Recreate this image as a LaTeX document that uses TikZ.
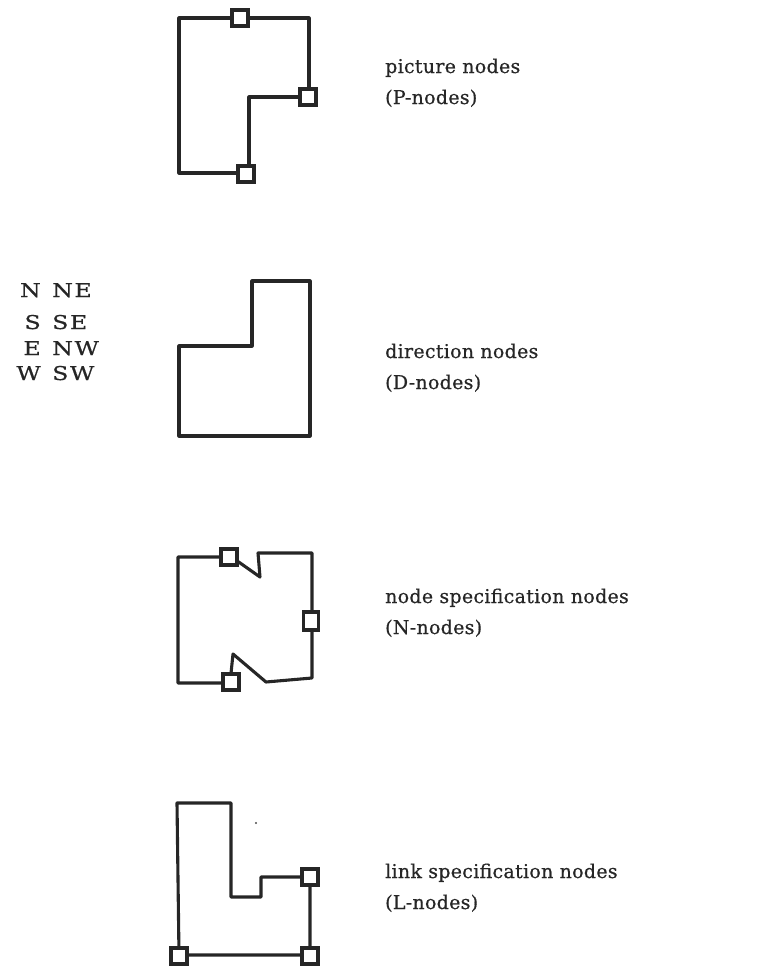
\documentclass[tikz,border=0pt]{standalone}
\usepackage{fontspec}
\setmainfont{DejaVu Serif}[LetterSpace=1.5,FakeBold=0.6]
\newfontfamily\dirfont{DejaVu Serif}[FakeStretch=1.25,LetterSpace=8,FakeBold=0.6]
\tikzset{
  outline/.style={line width=3.1pt, line join=round, line cap=round, black!85},
  pbox/.style={draw=black!85, line width=3.4pt, fill=white, minimum width=16pt, minimum height=16pt, inner sep=0pt, rectangle},
  nbox/.style={pbox, minimum width=15pt, minimum height=18pt},
  lbl/.style={anchor=base west, inner sep=0pt, font=\fontsize{19}{23}\selectfont, text=black!85},
  dirl/.style={anchor=base east, inner sep=0pt, font=\dirfont\fontsize{19}{23}\selectfont, text=black!85},
  dirr/.style={anchor=base west, inner sep=0pt, font=\dirfont\fontsize{19}{23}\selectfont, text=black!85}
}
\begin{document}
\begin{tikzpicture}[x=1pt,y=-1pt]
\useasboundingbox (0,0) rectangle (783,969);

% P-nodes shape
\draw[outline] (179,18) -- (309,18) -- (309,97) -- (249,97) -- (249,173) -- (179,173) -- cycle;
\node[pbox] (p1) at (240,18) {};
\node[pbox] (p2) at (308,97) {};
\node[pbox] (p3) at (246,174) {};
\node[lbl] (pt1) at (385,73) {picture nodes};
\node[lbl] (pt2) at (385,104) {(P-nodes)};

% D-nodes shape
\draw[outline] (252,281) -- (310,281) -- (310,436) -- (179,436) -- (179,346) -- (252,346) -- cycle;
\node[dirl] (d1) at (41,297) {N};
\node[dirr] (d2) at (52,297) {NE};
\node[dirl] (d3) at (41,329) {S};
\node[dirr] (d4) at (52,329) {SE};
\node[dirl] (d5) at (41,355) {E};
\node[dirr] (d6) at (52,355) {NW};
\node[dirl] (d7) at (41,380) {W};
\node[dirr] (d8) at (52,380) {SW};
\node[lbl] (dt1) at (385,358) {direction nodes};
\node[lbl] (dt2) at (385,389) {(D-nodes)};

% N-nodes shape
\draw[outline] (229,557) -- (178,557) -- (178,683) -- (230,683) -- (233,654) -- (266,682) -- (312,678) -- (312,553) -- (258,553) -- (260,577) -- (233,558);
\node[pbox] (n1) at (229,557) {};
\node[nbox] (n2) at (311,621) {};
\node[pbox] (n3) at (231,682) {};
\node[lbl] (nt1) at (385,603) {node specification nodes};
\node[lbl] (nt2) at (385,634) {(N-nodes)};

% L-nodes shape
\draw[outline] (177,803) -- (231,803) -- (231,897) -- (261,897) -- (261,877) -- (310,877) -- (310,955) -- (179,955) -- cycle;
\node[pbox] (l1) at (310,877) {};
\node[pbox] (l2) at (310,956) {};
\node[pbox] (l3) at (179,956) {};
\fill[black!70] (256,823) circle (1.2pt);
\node[lbl] (lt1) at (385,878) {link specification nodes};
\node[lbl] (lt2) at (385,909) {(L-nodes)};
\end{tikzpicture}
\end{document}
